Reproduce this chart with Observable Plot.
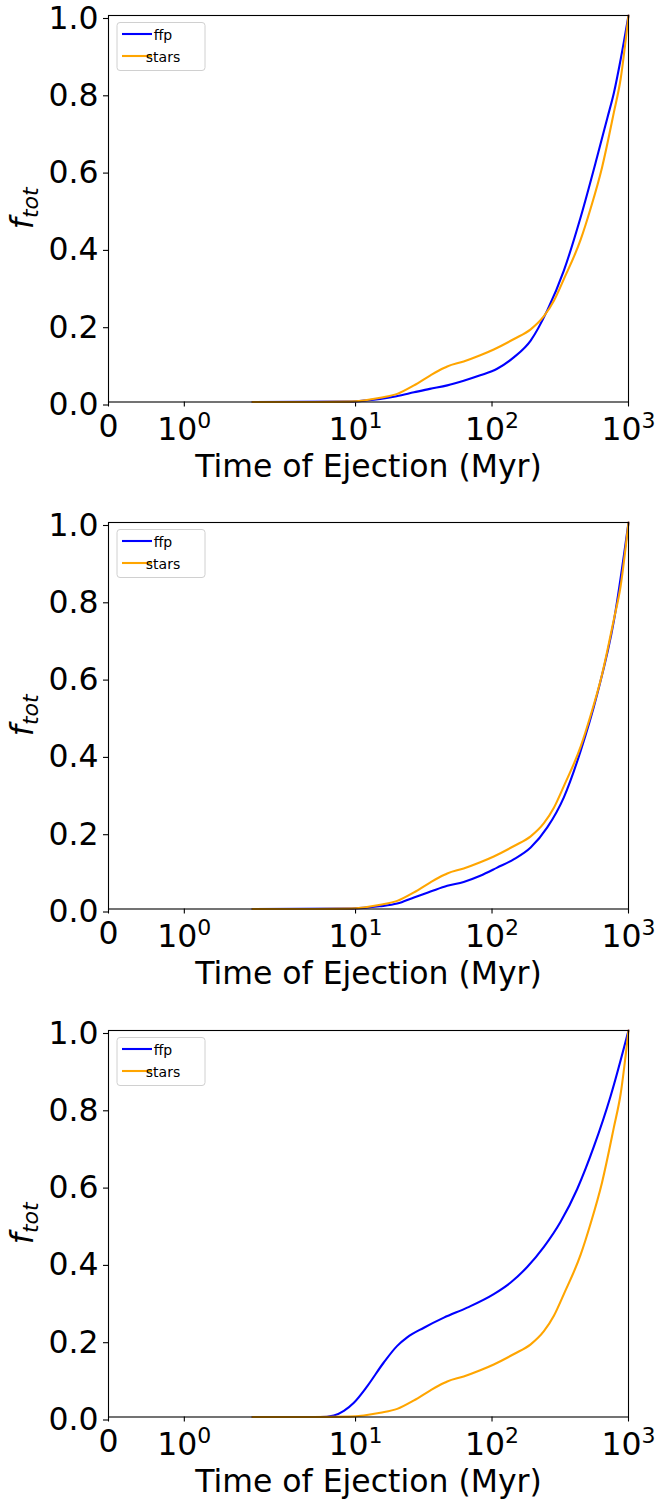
<!DOCTYPE html>
<html>
<head>
<meta charset="utf-8">
<script src="https://cdn.jsdelivr.net/npm/d3@7"></script>
<script src="https://cdn.jsdelivr.net/npm/@observablehq/plot@0.6"></script>
<style>
html, body { margin: 0; padding: 0; background: #fff; }
#wrap { position: relative; width: 658px; height: 1501px; overflow: hidden; }
.panel { position: absolute; left: 0; }
</style>
</head>
<body>
<div id="wrap"></div>
<script>
// ---- data ----
const xTickValues = [0, 1, 10, 100, 1000];
const xTickLabels = ["0", "10^0", "10^1", "10^2", "10^3"];
const yTickValues = [0, 0.2, 0.4, 0.6, 0.8, 1.0];
const seriesNames = ["ffp", "stars"];
const seriesColors = ["#0000ff", "#ffa500"];
const xLabel = "Time of Ejection (Myr)";
const yLabelMain = "f";
const yLabelSub = "tot";

// stars (same in all three panels)
const starsT = [1.9, 5, 9, 11.5, 15.2, 20.2, 26.8, 35.4, 44.4, 47, 62, 82, 103, 145, 192, 240, 284, 336, 446, 527, 640, 782, 875, 1000];
const starsF = [0, 0, 0.001, 0.004, 0.011, 0.021, 0.043, 0.069, 0.088, 0.092, 0.105, 0.121, 0.136, 0.163, 0.188, 0.222, 0.262, 0.318, 0.42, 0.5, 0.607, 0.75, 0.835, 1.0];

// ffp, panel 1
const ffp1T = [1.9, 9, 12, 15.2, 20, 26.8, 35, 47, 62, 82, 109, 145, 192, 254, 336, 446, 590, 700, 782, 880, 1000];
const ffp1F = [0, 0.001, 0.004, 0.008, 0.015, 0.025, 0.034, 0.043, 0.055, 0.069, 0.086, 0.116, 0.159, 0.237, 0.34, 0.478, 0.635, 0.735, 0.80, 0.89, 1.0];

// ffp, panel 2
const ffp2T = [1.9, 9, 11.5, 15, 20.2, 26.8, 35.4, 47, 62, 82, 109, 145, 192, 254, 336, 446, 590, 782, 1000];
const ffp2F = [0, 0.001, 0.003, 0.007, 0.014, 0.03, 0.045, 0.06, 0.07, 0.086, 0.107, 0.129, 0.159, 0.211, 0.289, 0.409, 0.556, 0.746, 1.0];

// ffp, panel 3
const ffp3T = [1.9, 5.5, 6.93, 8.21, 9.72, 12.2, 16.1, 20.2, 23.9, 31.7, 44.4, 65.8, 103, 137, 181, 240, 318, 421, 558, 739, 1000];
const ffp3F = [0, 0, 0.004, 0.016, 0.037, 0.08, 0.141, 0.184, 0.206, 0.231, 0.257, 0.283, 0.318, 0.348, 0.388, 0.44, 0.505, 0.59, 0.70, 0.83, 1.0];

// ---- helpers ----
// matplotlib-style symlog (linthresh = 2, linscale = 1, base 10)
const LINTHRESH = 2, LINSCALE_ADJ = 1 / (1 - 1 / 10);
const symlog = (x) => x <= LINTHRESH ? x * LINSCALE_ADJ : LINTHRESH * (LINSCALE_ADJ + Math.log10(x / LINTHRESH));
const rows = (ts, fs) => ts.map((t, i) => ({t: symlog(t), f: fs[i]}));

const panels = [
  {ffp: rows(ffp1T, ffp1F), stars: rows(starsT, starsF)},
  {ffp: rows(ffp2T, ffp2F), stars: rows(starsT, starsF)},
  {ffp: rows(ffp3T, ffp3F), stars: rows(starsT, starsF)}
];
const panelTops = [0, 507, 1015];
const M = {top: 15, right: 30, bottom: 84.5, left: 108};
const H = 486;
const FS = 31.5;

const labelFor = (v) => {
  const i = xTickValues.findIndex((t) => Math.abs(symlog(t) - v) < 1e-9);
  return i < 0 ? "" : xTickLabels[i];
};

const wrap = document.getElementById("wrap");
panels.forEach((p, k) => {
  const svg = Plot.plot({
    width: 658,
    height: H,
    marginTop: M.top, marginRight: M.right, marginBottom: M.bottom, marginLeft: M.left,
    style: {fontFamily: "'DejaVu Sans', sans-serif", fontSize: FS + "px", color: "black", background: "white", overflow: "visible"},
    x: {type: "linear", domain: [symlog(0), symlog(1000)]},
    y: {domain: [0, 1]},
    marks: [
      Plot.axisX({ticks: xTickValues.map(symlog), tickFormat: labelFor, tickSize: 5, tickPadding: 8, label: null, strokeWidth: 1.1, fontSize: FS}),
      Plot.axisY({ticks: yTickValues, tickFormat: d3.format(".1f"), tickSize: 5, tickPadding: 5, label: null, strokeWidth: 1.1, fontSize: FS, dy: 3}),
      Plot.line(p.ffp, {x: "t", y: "f", stroke: seriesColors[0], strokeWidth: 2.1, curve: "monotone-x"}),
      Plot.line(p.stars, {x: "t", y: "f", stroke: seriesColors[1], strokeWidth: 2.1, curve: "monotone-x"}),
      Plot.frame({stroke: "black", strokeWidth: 1.1}),
      Plot.text([xLabel], {frameAnchor: "bottom", lineAnchor: "middle", dy: 65, fontSize: FS, fill: "black"})
    ]
  });

  const s = d3.select(svg);
  // superscript exponents on x tick labels
  s.selectAll('g[aria-label="x-axis tick label"] text').each(function () {
    const m = (this.textContent || "").match(/^10\^(-?\d+)$/);
    if (!m) return;
    const t = d3.select(this);
    t.text(null);
    t.append("tspan").attr("dy", 3).text("10");
    t.append("tspan").attr("dy", -12).attr("font-size", 22).text(m[1]);
  });

  // y-axis label f_tot
  const yl = s.append("text")
    .attr("transform", `translate(33,${M.top + (H - M.top - M.bottom) / 2}) rotate(-90)`)
    .attr("text-anchor", "middle")
    .attr("font-size", FS)
    .attr("font-style", "italic")
    .attr("fill", "black");
  yl.append("tspan").text(yLabelMain);
  yl.append("tspan").attr("font-size", 22).attr("dy", 5).text(yLabelSub);

  // legend
  const lg = s.append("g").attr("transform", "translate(117,22.5)");
  lg.append("rect").attr("width", 88).attr("height", 48).attr("rx", 3)
    .attr("fill", "white").attr("fill-opacity", 0.8).attr("stroke", "#d0d0d0").attr("stroke-width", 1);
  seriesNames.forEach((n, i) => {
    const yy = 11.5 + i * 22;
    lg.append("line").attr("x1", 5).attr("x2", 35).attr("y1", yy).attr("y2", yy)
      .attr("stroke", seriesColors[i]).attr("stroke-width", 2.1);
    lg.append("text").attr("x", 46).attr("y", yy + 6).attr("font-size", 14).attr("fill", "black").text(n);
  });

  const div = document.createElement("div");
  div.className = "panel";
  div.style.top = panelTops[k] + "px";
  div.appendChild(svg);
  wrap.appendChild(div);
});
</script>
</body>
</html>
